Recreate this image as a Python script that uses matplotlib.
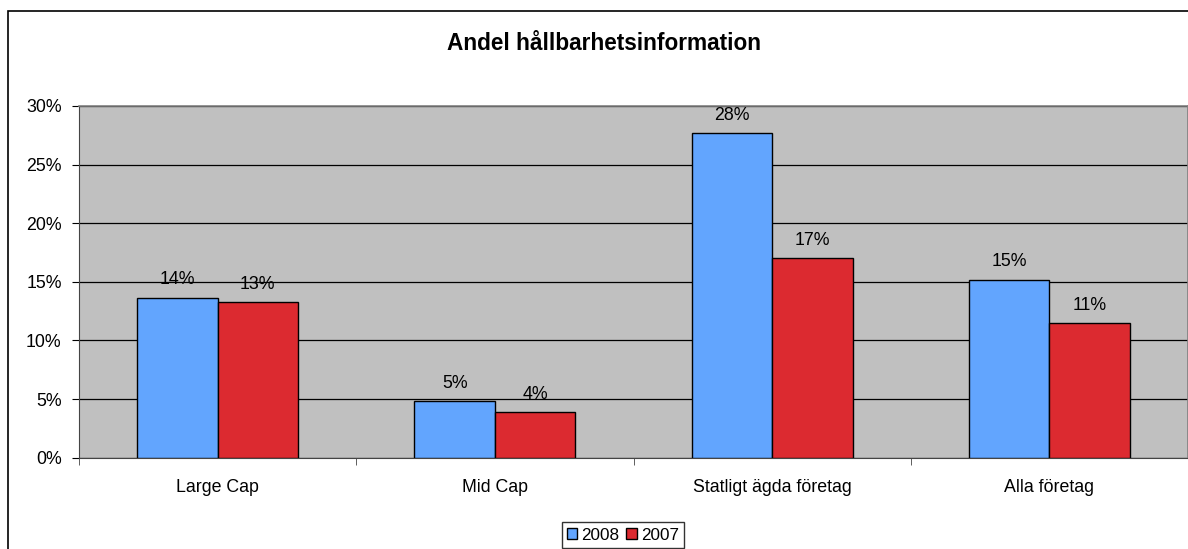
import matplotlib
matplotlib.use("Agg")
import matplotlib.pyplot as plt
from matplotlib.patches import Rectangle
import numpy as np

categories = ["Large Cap", "Mid Cap", "Statligt ägda företag", "Alla företag"]
series_names = ["2008", "2007"]
values_2008 = [13.65, 4.8, 27.7, 15.2]
values_2007 = [13.25, 3.9, 17.0, 11.5]
labels_2008 = ["14%", "5%", "28%", "15%"]
labels_2007 = ["13%", "4%", "17%", "11%"]
yticks = [0, 5, 10, 15, 20, 25, 30]
ytick_labels = ["0%", "5%", "10%", "15%", "20%", "25%", "30%"]

plt.rcParams['font.family'] = ['Liberation Sans', 'DejaVu Sans']

W, H = 1188, 549
fig = plt.figure(figsize=(W / 100, H / 100), dpi=100)
fig.patch.set_facecolor("white")

# outer chart border
fig.patches.append(Rectangle((8 / W, -0.2), 1.2, 1.2 - 11 / H, transform=fig.transFigure,
                             fill=False, edgecolor="black", linewidth=1.2, zorder=0))

left, right, top, bottom = 79, 1188, 106, 457.7
ax = fig.add_axes([left / W, 1 - bottom / H, (right - left) / W, (bottom - top) / H])
ax.set_facecolor("#C0C0C0")

fs = 12.8
x = np.arange(len(categories))
bw = 0.29
b1 = ax.bar(x - bw / 2, values_2008, bw, color="#62A5FE", edgecolor="black", linewidth=1, label=series_names[0], zorder=3)
b2 = ax.bar(x + bw / 2, values_2007, bw, color="#DC2A30", edgecolor="black", linewidth=1, label=series_names[1], zorder=3)

for rect, lab in zip(b1, labels_2008):
    ax.text(rect.get_x() + rect.get_width() / 2, rect.get_height() + 0.8, lab,
            ha="center", va="bottom", fontsize=fs, zorder=4)
for rect, lab in zip(b2, labels_2007):
    ax.text(rect.get_x() + rect.get_width() / 2, rect.get_height() + 0.8, lab,
            ha="center", va="bottom", fontsize=fs, zorder=4)

ax.set_xlim(-0.5, len(categories) - 0.5)
ax.set_ylim(0, 30)
ax.set_yticks(yticks)
ax.set_yticklabels(ytick_labels, fontsize=fs)
ax.yaxis.grid(True, color="black", linewidth=0.9, zorder=1)
ax.set_axisbelow(True)

ax.set_xticks(x)
ax.set_xticklabels(categories, fontsize=fs)
ax.tick_params(axis="x", length=0, pad=15)
ax.set_xticks(np.arange(len(categories) + 1) - 0.5, minor=True)
ax.tick_params(axis="x", which="minor", length=5, color="#444444")
ax.tick_params(axis="y", length=5, pad=7.5)

for s in ["top", "right"]:
    ax.spines[s].set_color("#808080")
    ax.spines[s].set_linewidth(1.2)
ax.spines["left"].set_color("#444444")
ax.spines["bottom"].set_color("#444444")

fig.text(604 / W, 1 - 43 / H, "Andel hållbarhetsinformation", ha="center", va="center",
         fontsize=16.3, fontweight="bold")

leg = fig.legend(handles=[b1, b2], labels=series_names, loc="center",
                 bbox_to_anchor=(623 / W, 1 - 535 / H), ncol=2, fontsize=12.3,
                 frameon=True, fancybox=False, edgecolor="black",
                 handlelength=0.6, handleheight=0.6, handletextpad=0.25,
                 columnspacing=0.4, borderpad=0.3, borderaxespad=0.0)
leg.get_frame().set_linewidth(1)

fig.savefig("out.png", dpi=100)
